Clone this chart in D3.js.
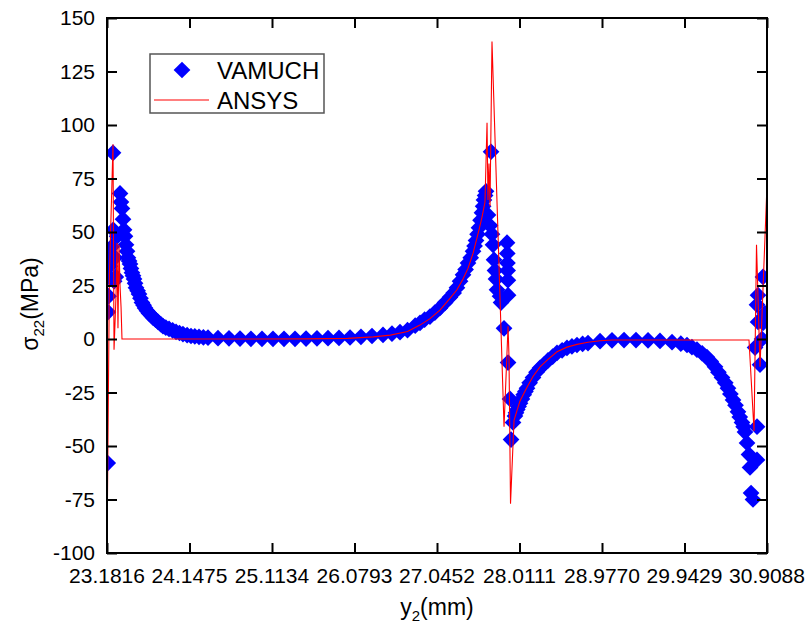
<!DOCTYPE html>
<meta charset="utf-8">
<style>
body { margin: 0; background: #fff; }
text { font-family: Arial, "Liberation Sans", sans-serif; fill: #000; }
</style>
<svg width="807" height="635"></svg>
<script src="https://d3js.org/d3.v7.min.js"></script>
<script>
// VAMUCH points (y2 in mm, sigma22 in MPa)
var vamuchX = [23.190, 23.193, 23.200, 23.205, 23.215, 23.225, 23.235, 23.252, 23.255, 23.265, 23.275, 23.285, 23.300,
  23.334, 23.345, 23.357, 23.369, 23.381, 23.392, 23.404, 23.416, 23.427, 23.440, 23.451, 23.462, 23.474, 23.486, 23.498,
  23.510, 23.521, 23.540, 23.556, 23.573, 23.591, 23.610, 23.627, 23.650, 23.673, 23.700, 23.720, 23.750, 23.779, 23.810,
  23.837, 23.870, 23.908, 23.950, 23.990, 24.030, 24.071, 24.120, 24.165, 24.210, 24.259, 24.310, 24.364, 24.481, 24.610,
  24.739, 24.867, 24.996, 25.125, 25.254, 25.383, 25.512, 25.640, 25.769, 25.898, 26.027, 26.155, 26.284, 26.413, 26.518,
  26.612, 26.700, 26.790, 26.846, 26.900, 26.963, 27.020, 27.080, 27.140, 27.197, 27.240, 27.279, 27.315, 27.350, 27.380,
  27.408, 27.440, 27.467, 27.485, 27.502, 27.520, 27.537, 27.555, 27.572, 27.585, 27.595, 27.608, 27.619,
  27.642, 27.666, 27.678, 27.689, 27.701, 27.713, 27.724, 27.736, 27.748, 27.783, 27.795, 27.830,
  27.865, 27.868, 27.870, 27.872, 27.875, 27.877, 27.877, 27.900, 27.912, 27.935,
  27.958, 27.970, 27.985, 28.000, 28.017, 28.040, 28.060, 28.080, 28.099, 28.130, 28.169, 28.210, 28.251, 28.300, 28.345,
  28.400, 28.450, 28.510, 28.567, 28.625, 28.684, 28.750, 28.813, 28.954, 29.094, 29.235, 29.375, 29.516, 29.656, 29.797,
  29.900, 29.972, 30.030, 30.089, 30.150, 30.206, 30.250, 30.300, 30.340, 30.382, 30.420, 30.452, 30.480, 30.511, 30.540,
  30.569, 30.590, 30.616, 30.635, 30.651, 30.675, 30.698, 30.710, 30.722, 30.745,
  30.792, 30.792, 30.769, 30.827, 30.804, 30.792, 30.804, 30.862, 30.862, 30.886, 30.851]
var vamuchY = [-58, 12.6, 20, 29, 34, 38, 43, 87, 51, 27, 38, 29, 48,
  68, 64, 61, 56, 51, 48, 44, 41, 38, 36.5, 35, 33, 31, 29.5, 28,
  26, 24, 22.5, 21, 19, 17, 15.8, 14.5, 13.2, 12, 11, 10, 9, 8, 7,
  6, 5.3, 4.7, 4, 3.3, 2.8, 2.3, 1.8, 1.4, 1.2, 1, 0.8, 0.6, 0.4, 0.3,
  0.2, 0.1, 0.1, 0.1, 0.1, 0.1, 0.2, 0.3, 0.4, 0.5, 0.7, 1, 1.4, 1.9, 2.5,
  3.2, 4.1, 6.2, 7.5, 9, 10.5, 12.3, 14.5, 17, 19.5, 21.5, 24, 27, 30, 32.5,
  35.5, 38, 41, 43.5, 46, 49, 52, 55.5, 59, 62, 65, 67, 69,
  58, 53, 87.5, 49, 44, 37, 32, 28, 23, 20, 17, 5,
  45, 40, 35.5, 32, 27.5, 20.5, -11, -28, -47, -39,
  -36, -34.5, -33, -31.5, -30, -28, -26, -24.5, -23, -20.5, -18, -15.5, -13.5, -11.8, -10,
  -8.2, -6.5, -5.3, -4.2, -3.5, -2.8, -2.3, -1.9, -1, -0.6, -0.5, -0.5, -0.6, -0.9, -1.5,
  -2.2, -2.8, -3.8, -5, -6.7, -8.5, -10.5, -13, -15.5, -18, -20.5, -23, -25.7, -28.5, -31,
  -34, -36.5, -39, -41, -43.5, -48.6, -54, -60, -72, -75,
  -56.5, -41, -4, -12, 8, 16, 20.5, 29, 7.5, 12, 0]

// ANSYS line
var ansysX = [23.1816, 23.210, 23.252, 23.264, 23.287, 23.299, 23.310, 23.322, 23.334, 23.346, 23.357,
  24.500, 25.500, 26.000, 26.300, 26.500, 26.700, 26.846, 26.963, 27.080, 27.197, 27.279, 27.350, 27.408, 27.467,
  27.537, 27.572, 27.607, 27.631, 27.642, 27.654, 27.666, 27.689, 27.830, 27.877, 27.888, 27.906, 27.947,
  27.985, 28.017, 28.099, 28.169, 28.251, 28.345, 28.450, 28.567, 28.684, 28.813, 28.954, 29.094,
  30.698, 30.757, 30.786, 30.827, 30.9088]
var ansysY = [-100, 30, 91, -5, 20, 45, 5, 44, 25, 15, 0,
  0, 0.05, 0.3, 1, 1.8, 3.5, 6.5, 9.5, 13.5, 19, 23, 28, 33, 40,
  51, 57, 64, 101, 65, 82, 62, 139, -41, 6, -8, -77, -38,
  -33, -29, -22.5, -17.5, -13, -9.5, -6, -3.8, -2.5, -1.5, -0.8, -0.5,
  -0.5, -43, 44, -13, 72]

var xTicks = [23.1816, 24.1475, 25.1134, 26.0793, 27.0452, 28.0111, 28.9770, 29.9429, 30.9088]
var yTicks = [-100, -75, -50, -25, 0, 25, 50, 75, 100, 125, 150]
var seriesNames = ["VAMUCH", "ANSYS"]

var svg = d3.select("svg"),
    plotL = 107, plotR = 767, plotT = 18, plotB = 553

var x = d3.scaleLinear().domain([23.1816, 30.9088]).range([plotL, plotR])
var y = d3.scaleLinear().domain([-100, 150]).range([plotB, plotT])

// minor ticks halfway between the majors
var xMinor = [], yMinor = []
for (var i = 0; i < xTicks.length - 1; i++) xMinor.push((xTicks[i] + xTicks[i + 1]) / 2)
for (var i = 0; i < yTicks.length - 1; i++) yMinor.push((yTicks[i] + yTicks[i + 1]) / 2)

svg.append("clipPath").attr("id", "plot")
  .append("rect")
  .attr("x", plotL).attr("y", plotT)
  .attr("width", plotR - plotL).attr("height", plotB - plotT)

var plot = svg.append("g").attr("clip-path", "url(#plot)")

var pts = vamuchX.map(function(d, i) { return {x: d, y: vamuchY[i]} })
var line = ansysX.map(function(d, i) { return {x: d, y: ansysY[i]} })

// diamonds: a square turned 45 degrees
var diamond = d3.symbol().type(d3.symbolSquare).size(140)
plot.selectAll(".pt").data(pts)
  .enter().append("path")
  .attr("class", "pt")
  .attr("d", diamond)
  .attr("transform", function(d) { return "translate(" + x(d.x) + "," + y(d.y) + ") rotate(45)" })
  .attr("fill", "#0000ff")

var valueline = d3.line()
    .x(function(d) { return x(d.x) })
    .y(function(d) { return y(d.y) })
plot.append("path")
  .attr("d", valueline(line))
  .attr("fill", "none")
  .attr("stroke", "#ff0000")
  .attr("stroke-width", 1.1)

// axes: ticks point inward on all four sides
function tickAxis(axis, ticks, len) {
  return axis.tickValues(ticks).tickSize(len).tickFormat("")
}
var gx = svg.append("g").attr("transform", "translate(0," + plotB + ")")
gx.call(tickAxis(d3.axisTop(x), xMinor, 6))
gx.call(tickAxis(d3.axisTop(x), xTicks, 10))
var gxt = svg.append("g").attr("transform", "translate(0," + plotT + ")")
gxt.call(tickAxis(d3.axisBottom(x), xMinor, 6))
gxt.call(tickAxis(d3.axisBottom(x), xTicks, 10))
var gy = svg.append("g").attr("transform", "translate(" + plotL + ",0)")
gy.call(tickAxis(d3.axisRight(y), yMinor, 6))
gy.call(tickAxis(d3.axisRight(y), yTicks, 10))
var gyr = svg.append("g").attr("transform", "translate(" + plotR + ",0)")
gyr.call(tickAxis(d3.axisLeft(y), yMinor, 6))
gyr.call(tickAxis(d3.axisLeft(y), yTicks, 10))
svg.selectAll(".tick line").attr("stroke", "#000").attr("stroke-width", 2)
svg.selectAll(".domain").remove()

svg.append("rect")
  .attr("x", plotL).attr("y", plotT)
  .attr("width", plotR - plotL).attr("height", plotB - plotT)
  .attr("fill", "none").attr("stroke", "#000").attr("stroke-width", 2)

// tick labels
svg.selectAll(".xl").data(xTicks)
  .enter().append("text")
  .attr("x", function(d) { return x(d) })
  .attr("y", 583)
  .attr("text-anchor", "middle")
  .style("font-size", "21px")
  .text(function(d) { return d.toFixed(4) })
svg.selectAll(".yl").data(yTicks)
  .enter().append("text")
  .attr("x", 95)
  .attr("y", function(d) { return y(d) + 7 })
  .attr("text-anchor", "end")
  .style("font-size", "21px")
  .text(function(d) { return d })

// axis titles
var xt = svg.append("text")
  .attr("x", 437).attr("y", 615)
  .attr("text-anchor", "middle")
  .style("font-size", "23px")
xt.append("tspan").text("y")
xt.append("tspan").attr("dy", 6).style("font-size", "15px").text("2")
xt.append("tspan").attr("dy", -6).text("(mm)")

var yt = svg.append("text")
  .attr("transform", "translate(38,304) rotate(-90)")
  .attr("text-anchor", "middle")
  .style("font-size", "23px")
yt.append("tspan").text("\u03c3")
yt.append("tspan").attr("dy", 6).style("font-size", "15px").text("22")
yt.append("tspan").attr("dy", -6).text("(MPa)")

// legend
var lg = svg.append("g")
lg.append("rect")
  .attr("x", 150).attr("y", 54).attr("width", 174).attr("height", 59)
  .attr("fill", "#fff").attr("stroke", "#555").attr("stroke-width", 1.5)
lg.append("path")
  .attr("d", diamond)
  .attr("transform", "translate(182,70) rotate(45)")
  .attr("fill", "#0000ff")
lg.append("line")
  .attr("x1", 154).attr("x2", 209).attr("y1", 100).attr("y2", 100)
  .attr("stroke", "#ff0000").attr("stroke-width", 1.1)
lg.selectAll(".lt").data(seriesNames)
  .enter().append("text")
  .attr("x", 217)
  .attr("y", function(d, i) { return 79 + i * 30 })
  .style("font-size", "24px")
  .text(function(d) { return d })
</script>
